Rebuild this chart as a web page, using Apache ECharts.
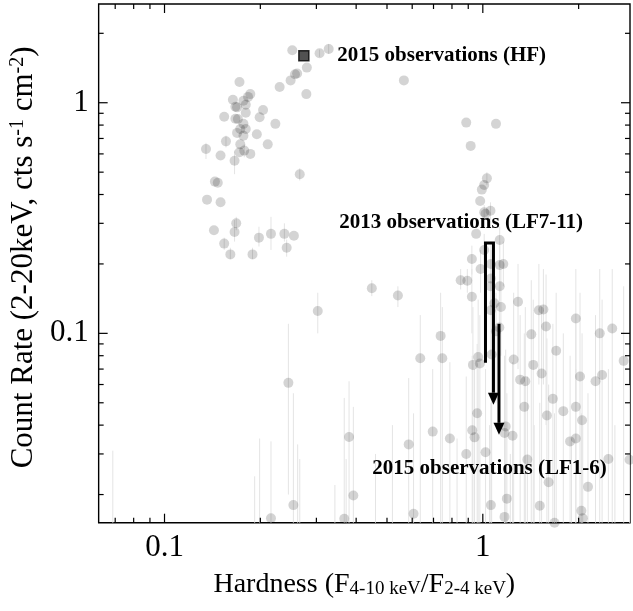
<!DOCTYPE html>
<html><head><meta charset="utf-8">
<script src="https://cdn.jsdelivr.net/npm/echarts@6/dist/echarts.min.js"></script>
<style>html,body{margin:0;padding:0;background:#fff;overflow:hidden}#c{width:633px;height:611px}</style>
</head><body><div id="c"></div>
<script>
// ---- data ----
const hardness = [
0.252,0.307,0.328,0.280,0.257,0.261,0.249,0.230,0.279,0.172,
0.186,0.183,0.164,0.177,0.167,0.169,0.180,0.204,0.180,0.154,
0.167,0.170,0.199,0.177,0.223,0.173,0.180,0.169,0.195,0.177,
0.156,0.173,0.211,0.135,0.178,0.172,0.186,0.150,0.166,0.266,
0.144,0.147,0.136,0.150,0.168,0.143,0.166,0.198,0.216,0.238,
0.255,0.154,0.161,0.189,0.242,
0.303,0.565,0.887,1.10,0.916,1.03,1.01,0.993,0.981,1.01,
1.02,1.057,0.953,1.13,1.01,0.924,0.984,1.06,1.13,1.16,
0.852,0.894,1.06,1.13,1.057,0.448,0.541,0.924,1.087,1.14,
1.06,1.29,1.50,1.55,1.96,1.58,1.127,1.10,1.42,2.33,
2.55,1.70,0.737,0.636,0.746,0.967,1.066,0.931,0.979,1.25,
1.44,1.53,1.31,1.36,2.02,2.26,2.37,2.77,1.66,1.35,
1.96,1.79,1.59,2.05,0.96,0.380,0.585,0.696,0.788,0.926,
0.942,1.18,1.17,1.24,0.887,1.02,1.88,1.96,1.38,2.48,
2.89,1.61,2.14,0.392,0.254,0.216,0.367,0.606,1.06,1.19,
1.51,2.04,1.17,2.06,1.68,0.245,
0.0688,0.199,0.192,0.262,0.266,0.343,0.372,0.46,0.52,0.83,1.05,1.22,1.45,1.9,2.6
];
const countRate = [
1.69,1.64,1.71,1.42,1.33,1.34,1.25,1.17,1.09,1.23,
1.09,1.06,1.03,1.02,0.96,0.955,0.98,0.93,0.905,0.87,
0.852,0.85,0.865,0.81,0.81,0.77,0.77,0.74,0.73,0.72,
0.68,0.66,0.66,0.63,0.62,0.61,0.60,0.59,0.56,0.49,
0.455,0.45,0.38,0.37,0.30,0.28,0.275,0.26,0.27,0.27,
0.265,0.245,0.22,0.22,0.235,
0.125,1.25,0.82,0.81,0.65,0.47,0.44,0.42,0.375,0.335,
0.33,0.34,0.27,0.254,0.23,0.21,0.19,0.20,0.198,0.20,
0.17,0.169,0.173,0.16,0.16,0.157,0.146,0.144,0.135,0.13,
0.126,0.137,0.126,0.127,0.116,0.107,0.106,0.102,0.099,0.100,
0.105,0.084,0.0975,0.078,0.078,0.079,0.081,0.073,0.074,0.077,
0.073,0.067,0.063,0.062,0.065,0.062,0.066,0.076,0.052,0.048,
0.048,0.046,0.044,0.042,0.045,0.0355,0.033,0.0375,0.035,0.038,
0.0354,0.0395,0.037,0.036,0.030,0.0305,0.034,0.035,0.0284,0.0285,
0.0283,0.0226,0.0216,0.0198,0.018,0.0158,0.0157,0.0165,0.018,0.0192,
0.0179,0.017,0.016,0.0158,0.0151,0.061,
0.009,0.010,0.010,0.011,0.011,0.010,0.011,0.010,0.011,0.010,0.011,0.010,0.011,0.010,0.011
];
const errLow = [
null,1.58,1.63,null,null,null,null,null,null,null,
null,null,null,null,null,null,null,null,null,null,
null,null,null,null,null,null,null,null,null,null,
0.64,null,null,0.57,0.58,null,null,null,0.49,0.46,
null,null,null,null,0.28,null,0.25,0.238,0.23,0.25,
null,0.23,0.21,0.21,0.215,
0.10,null,null,null,null,0.44,null,null,null,0.31,
null,0.31,null,0.22,0.19,0.18,0.15,0.16,0.15,0.16,
0.155,0.15,0.12,0.11,0.12,0.145,0.13,0.10,0.09,0.08,
0.08,0.07,0.06,0.06,0.05,0.04,0.05,0.05,0.004,0.004,
0.004,0.004,0.004,0.004,0.004,0.004,0.004,0.004,0.004,0.004,
0.004,0.004,0.004,0.004,0.004,0.004,0.004,0.004,0.004,0.004,
0.004,0.004,0.004,0.004,0.004,0.004,0.004,0.004,0.004,0.004,
0.004,0.004,0.004,0.004,0.004,0.004,0.004,0.004,0.004,0.004,
0.004,0.004,0.004,0.004,0.004,0.004,0.004,0.004,0.004,0.004,
0.004,0.004,0.004,0.004,0.004,0.02,
0.003,0.003,0.003,0.003,0.003,0.003,0.003,0.003,0.003,0.003,0.003,0.003,0.003,0.003,0.003
];
const errHigh = [
null,1.70,1.80,null,null,null,null,null,null,null,
null,null,null,null,null,null,null,null,null,null,
null,null,null,null,null,null,null,null,null,null,
0.72,null,null,0.67,0.66,null,null,null,0.62,0.52,
null,null,null,null,0.32,null,0.31,0.29,0.32,0.30,
null,0.26,0.235,0.235,0.255,
0.15,null,null,null,null,0.50,null,null,null,0.36,
null,0.37,null,0.29,0.27,0.24,0.23,0.25,0.25,0.25,
0.19,0.19,0.23,0.22,0.21,0.17,0.16,0.19,0.19,0.19,
0.18,0.20,0.20,0.19,0.19,0.18,0.16,0.15,0.17,0.19,
0.19,0.15,0.15,0.12,0.13,0.14,0.14,0.13,0.12,0.15,
0.14,0.13,0.12,0.13,0.15,0.12,0.14,0.16,0.11,0.10,
0.11,0.10,0.095,0.10,0.09,0.062,0.064,0.07,0.075,0.08,
0.07,0.085,0.08,0.075,0.065,0.07,0.08,0.07,0.065,0.07,
0.06,0.06,0.055,0.048,0.055,0.034,0.0525,0.045,0.05,0.055,
0.05,0.045,0.04,0.04,0.045,0.11,
0.031,0.035,0.024,0.033,0.0285,0.022,0.0285,0.03,0.04,0.035,0.04,0.03,0.04,0.035,0.04
];
const hfHardness = [0.274];
const hfRate = [1.60];
const xMajorTicks = [0.1, 1];
const xMinorTicks = [0.07, 0.08, 0.09, 0.2, 0.3, 0.4, 0.5, 0.6, 0.7, 0.8, 0.9, 2];
const yMajorTicks = [0.1, 1];
const yMinorTicks = [0.02, 0.03, 0.04, 0.05, 0.06, 0.07, 0.08, 0.09, 0.2, 0.3, 0.4, 0.5, 0.6, 0.7, 0.8, 0.9, 2];
const annotationTexts = ['2015 observations (HF)', '2013 observations (LF7-11)', '2015 observations (LF1-6)'];
const annotationX = [0.349, 0.354, 0.4496];
const annotationY = [1.60, 0.301, 0.0259];
const arrowPaths = [
  [[1.0195, 0.0745], [1.0195, 0.2466], [1.080, 0.2466], [1.080, 0.049]],
  [[1.124, 0.11], [1.124, 0.0363]]
];

// ---- build ----
const FONT = 'Liberation Serif';
const pts = hardness.map((h, i) => [h, countRate[i]]);
const errData = [];
hardness.forEach((h, i) => { if (errLow[i] != null) errData.push([h, errLow[i], errHigh[i]]); });

function clampY(y, cs) { return Math.min(Math.max(y, cs.y), cs.y + cs.height); }

function renderErr(params, api) {
  const cs = params.coordSys;
  const p1 = api.coord([api.value(0), api.value(1)]);
  const p2 = api.coord([api.value(0), api.value(2)]);
  if (p1[0] < cs.x || p1[0] > cs.x + cs.width) return;
  return { type: 'line', shape: { x1: p1[0], y1: clampY(p1[1], cs), x2: p1[0], y2: clampY(p2[1], cs) },
    style: { stroke: '#e4e4e4', lineWidth: 1 } };
}

function renderTicks(params, api) {
  const cs = params.coordSys;
  const L = cs.x, R = cs.x + cs.width, T = cs.y, B = cs.y + cs.height;
  const ch = [];
  const add = (x1, y1, x2, y2) => ch.push({ type: 'line', shape: { x1, y1, x2, y2 }, style: { stroke: '#000', lineWidth: 1.2 } });
  const xt = (v, len) => { const px = api.coord([v, 1])[0]; add(px, B, px, B - len); add(px, T, px, T + len); };
  const yt = (v, len) => { const py = api.coord([1, v])[1]; add(L, py, L + len, py); add(R, py, R - len, py); };
  xMajorTicks.forEach(v => xt(v, 9)); xMinorTicks.forEach(v => xt(v, 5));
  yMajorTicks.forEach(v => yt(v, 9)); yMinorTicks.forEach(v => yt(v, 5));
  return { type: 'group', children: ch };
}

function renderAnno(params, api) {
  const ch = [];
  annotationTexts.forEach((t, i) => {
    const p = api.coord([annotationX[i], annotationY[i]]);
    ch.push({ type: 'text', x: p[0], y: p[1], style: { text: t, font: 'bold 21px "' + FONT + '"', fill: '#000',
      textAlign: 'left', textVerticalAlign: 'middle', align: 'left', verticalAlign: 'middle' } });
  });
  const HEAD = 12, HW = 5.5;
  arrowPaths.forEach(path => {
    const px = path.map(q => api.coord(q));
    const n = px.length;
    const tip = px[n - 1], prev = px[n - 2];
    const dx = tip[0] - prev[0], dy = tip[1] - prev[1];
    const len = Math.hypot(dx, dy), ux = dx / len, uy = dy / len;
    const base = [tip[0] - ux * HEAD, tip[1] - uy * HEAD];
    const linePts = px.slice(0, n - 1).concat([base]);
    ch.push({ type: 'polyline', shape: { points: linePts }, style: { stroke: '#000', lineWidth: 3, fill: null, lineJoin: 'miter' } });
    ch.push({ type: 'polygon', shape: { points: [tip, [base[0] - uy * HW, base[1] + ux * HW], [base[0] + uy * HW, base[1] - ux * HW]] },
      style: { fill: '#000' } });
  });
  return { type: 'group', children: ch };
}

const decadeLabel = v => {
  const e = Math.log10(v);
  return Math.abs(e - Math.round(e)) < 1e-6 ? String(Math.pow(10, Math.round(e))) : '';
};

const chart = echarts.init(document.getElementById('c'), null, { renderer: 'canvas' });
chart.setOption({
  animation: false,
  backgroundColor: '#fff',
  grid: { left: 96.7, top: 4, width: 537.3, height: 518.7, show: true, borderColor: '#000', borderWidth: 1.4, backgroundColor: 'transparent' },
  xAxis: {
    type: 'log', logBase: 10, min: 0.0621, max: 2.9,
    axisLine: { show: false }, axisTick: { show: false }, splitLine: { show: false }, minorTick: { show: false },
    axisLabel: { fontFamily: FONT, fontSize: 31, color: '#000', margin: 10, formatter: decadeLabel },
    name: '{m|Hardness (F}{s|4-10 keV}{m|/F}{s|2-4 keV}{m|)}',
    nameLocation: 'middle', nameGap: 48,
    nameTextStyle: { fontFamily: FONT, fontSize: 28, color: '#000',
      rich: { m: { fontFamily: FONT, fontSize: 28, color: '#000', lineHeight: 28 },
              s: { fontFamily: FONT, fontSize: 19, color: '#000', verticalAlign: 'bottom', lineHeight: 14 } } }
  },
  yAxis: {
    type: 'log', logBase: 10, min: 0.0151, max: 2.68,
    axisLine: { show: false }, axisTick: { show: false }, splitLine: { show: false }, minorTick: { show: false },
    axisLabel: { fontFamily: FONT, fontSize: 31, color: '#000', margin: 10, formatter: decadeLabel },
    name: '{m|Count Rate (2-20keV, cts s}{p|-1}{m| cm}{p|-2}{m|)}',
    nameLocation: 'middle', nameGap: 53,
    nameTextStyle: { fontFamily: FONT, fontSize: 31, color: '#000', padding: [0, 0, 0, 12],
      rich: { m: { fontFamily: FONT, fontSize: 31, color: '#000', lineHeight: 31 },
              p: { fontFamily: FONT, fontSize: 20, color: '#000', verticalAlign: 'top', lineHeight: 11 } } }
  },
  series: [
    { type: 'custom', name: 'errors', data: errData, encode: { x: 0, y: [1, 2] }, renderItem: renderErr, z: 1, silent: true },
    { type: 'scatter', name: 'points', data: pts, symbol: 'circle', symbolSize: 10, clip: true,
      itemStyle: { color: 'rgba(0,0,0,0.21)' }, z: 2, silent: true },
    { type: 'scatter', name: 'HF', data: hfHardness.map((h, i) => [h, hfRate[i]]), symbol: 'rect', symbolSize: 10,
      itemStyle: { color: '#262626', borderColor: '#000', borderWidth: 1.5 }, z: 3, silent: true },
    { type: 'custom', name: 'ticks', data: [[1, 1]], renderItem: renderTicks, z: 4, silent: true },
    { type: 'custom', name: 'annotations', data: [[1, 1]], renderItem: renderAnno, z: 5, silent: true }
  ]
});
</script></body></html>
